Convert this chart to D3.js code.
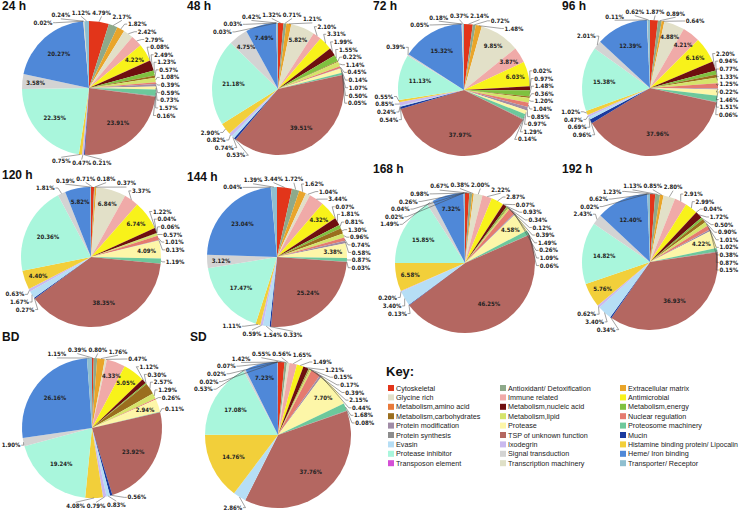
<!DOCTYPE html>
<html><head><meta charset="utf-8">
<script src="https://cdn.jsdelivr.net/npm/d3@7"></script>
<style>body{margin:0;background:#fff}svg{display:block}</style>
</head><body><svg id="c" width="740" height="512"></svg>
<script>
const categories = ["Cytoskeletal","Antioxidant/ Detoxification","Extracellular matrix","Glycine rich","Immune related","Antimicrobial","Metabolism,amino acid","Metabolism,nucleic acid","Metabolism,energy","Metabolism,carbohydrates","Metabolism,lipid","Nuclear regulation","Protein modification","Protease","Proteosome machinery","Protein synthesis","TSP of unknown function","Mucin","Evasin","Ixodegrin","Histamine binding protein/ Lipocalin","Protease inhibitor","Signal transduction","Heme/ Iron binding","Transposon element","Transcription machinery","Transporter/ Receptor"];
const colors = ["#e2351a","#8ea98a","#e9a52a","#e2e0c8","#f0aaa8","#f8f21a","#e8793a","#6e0f0f","#7fc13f","#9a6e1e","#d5e46a","#e57b6f","#a08ca6","#fdf6a8","#6dc89b","#8d8d8d","#b46761","#1b3a9e","#b6def5","#c9b9ef","#f2cf3a","#a9f6dc","#d3d3d3","#4f88d8","#d44fd6","#dfe0c7","#8fbfd0"];
const pieTitles = ["24 h","48 h","72 h","96 h","120 h","144 h","168 h","192 h","BD","SD"];
const v24h = [4.79,2.17,1.82,2.42,2.79,4.22,0.08,2.49,1.23,0.57,1.08,0.39,0.59,0.73,1.57,0.16,23.91,0.21,0,0.47,0.75,22.35,3.58,20.27,0.02,0.24,1.12];
const v48h = [1.32,0.71,1.21,5.82,2.10,3.31,0,1.99,1.55,0.22,1.14,0.45,0.14,1.07,0.50,0.05,39.51,0.53,0.74,0.82,2.90,21.18,4.75,7.49,0.03,0.03,0.42];
const v72h = [2.14,0.72,1.48,9.85,3.87,6.03,0.02,0.97,1.48,0.36,1.20,1.04,0.85,0.97,1.29,0.14,37.97,0.54,0.24,0.85,0.55,11.13,0.39,15.32,0.05,0.18,0.37];
const v96h = [1.87,0.89,0.64,4.88,4.21,6.16,0,2.20,0.94,0.77,1.33,1.25,0.22,1.46,1.51,0.06,37.96,0.96,0.69,0.47,1.02,15.38,2.01,12.39,0,0.11,0.62];
const v120h = [0.71,0.18,0.37,6.84,3.37,6.74,0,1.22,0.04,0.06,0.57,1.01,0.13,4.09,1.19,0,38.35,0.27,1.67,0.63,4.40,20.36,1.81,5.82,0,0,0.19];
const v144h = [3.44,1.72,1.62,1.04,3.44,4.32,0.07,1.81,0.81,1.30,0.96,0.74,0.58,3.38,0.87,0.03,25.24,0.33,1.54,0.59,1.11,17.47,3.12,23.04,0,0.04,1.39];
const v168h = [0.98,0.67,0.38,2.00,2.22,2.87,0.07,0.93,0.34,0.12,0.39,1.49,0.26,4.58,1.09,0.06,46.25,0.13,3.40,0.20,6.58,15.85,1.49,7.32,0.02,0.04,0.26];
const v192h = [1.23,1.13,0.85,2.80,2.91,2.99,0.04,1.72,0.50,0.90,1.01,1.02,0.38,4.22,0.87,0.15,36.93,0.34,3.40,0.62,5.76,14.82,2.43,12.40,0,0.02,0.62];
const vBD = [0.39,0.80,1.76,0.47,4.33,5.05,0,1.12,0.30,2.57,1.29,0.26,0,2.94,0.11,0,23.92,0.56,0.83,0.79,4.08,19.24,1.90,26.16,0,0,1.15];
const vSD = [1.42,0.55,0,0.56,1.65,1.49,0,1.21,0.15,0.17,0.39,2.15,0.44,7.70,1.68,0.08,37.76,0,2.86,0,14.76,17.08,0.53,7.23,0.02,0.02,0.07];
const pieValues = [v24h,v48h,v72h,v96h,v120h,v144h,v168h,v192h,vBD,vSD];
// label placement exceptions (category indexes)
const labelInside = {"24 h":[22],"72 h":[4],"144 h":[13,22],"BD":[13]};
const labelOutside = {"24 h":[0],"BD":[20]};

const layout = [
  {cx:89,cy:88,r:67,tx:2,ty:10},{cx:278,cy:89,r:66,tx:187,ty:10},{cx:464,cy:90,r:66,tx:373,ty:10},{cx:650,cy:88,r:68,tx:562,ty:10},
  {cx:91,cy:257,r:70,tx:2,ty:179},{cx:277,cy:257,r:70,tx:187,ty:181},{cx:465,cy:263,r:70,tx:373,ty:173},{cx:650,cy:262,r:68,tx:562,ty:173},
  {cx:92,cy:428,r:70,tx:2,ty:341},{cx:278,cy:435,r:73,tx:190,ty:341}
];

const svg = d3.select("#c");
const W = 740;
const LFONT = "'Liberation Sans Narrow','Arial Narrow','DejaVu Sans Condensed',sans-serif";
const pie = d3.pie().sort(null).value(d=>d.v).startAngle(0).endAngle(2*Math.PI);
const color = d3.scaleOrdinal().domain(categories).range(colors);

pieTitles.forEach((title,pi)=>{
  const L = layout[pi];
  const data = pieValues[pi].map((v,i)=>({v, i, c:categories[i]}));
  const arcs = pie(data);
  const g = svg.append("g");
  const arc = d3.arc().innerRadius(0).outerRadius(L.r);
  g.selectAll("path.s").data(arcs.filter(d=>d.data.v>0)).join("path")
    .attr("class","s").attr("transform",`translate(${L.cx},${L.cy})`)
    .attr("d",arc).attr("fill",d=>color(d.data.c));
  svg.append("text").attr("x",L.tx).attr("y",L.ty).text(title)
    .attr("font-family","'Liberation Sans',Arial,sans-serif").attr("font-weight","bold").attr("font-size",12).attr("fill","#111");

  const fs = 6;
  const items = [];
  arcs.forEach(d=>{
    if (d.data.v<=0) return;
    const idx = d.data.i;
    let inside = d.data.v >= 4;
    if ((labelInside[title]||[]).includes(idx)) inside = true;
    if ((labelOutside[title]||[]).includes(idx)) inside = false;
    const mid = (d.startAngle+d.endAngle)/2;
    const txt = d.data.v.toFixed(2)+"%";
    if (inside) {
      const rr = L.r*(d.data.v>10?0.68:0.8);
      g.append("text").attr("x",L.cx+rr*Math.sin(mid)).attr("y",L.cy-rr*Math.cos(mid))
        .attr("dy","0.35em").attr("text-anchor","middle").text(txt)
        .attr("font-family",LFONT).attr("font-weight","bold").attr("font-size",fs).attr("fill","#222");
    } else items.push({mid,txt});
  });
  items.forEach(it=>{
    it.node = g.append("text").text(it.txt).attr("font-family",LFONT).attr("font-weight","bold")
      .attr("font-size",fs).attr("fill","#222").attr("text-anchor","middle").attr("dy","0.35em");
    it.w = it.node.node().getComputedTextLength()+1.5;
    it.h = fs+1.5;
  });
  const n = items.length;
  if (!n) return;
  items.sort((a,b)=>a.mid-b.mid);
  let maxGap=-1, cut=0;
  for (let i=0;i<n;i++){
    const a=items[i].mid, b=(i+1<n)?items[i+1].mid:items[0].mid+2*Math.PI;
    if (b-a>maxGap){maxGap=b-a;cut=(i+1)%n;}
  }
  const ord = items.slice(cut).concat(items.slice(0,cut));
  let prev=-Infinity;
  ord.forEach(it=>{let t=it.mid; while(t<prev) t+=2*Math.PI; it.t=t; prev=t;});
  const R = L.r+4;
  const pos = it=>{
    const s=Math.sin(it.t),c=Math.cos(it.t);
    const ext=it.w/2*Math.abs(s)+it.h/2*Math.abs(c);
    let x=L.cx+(R+ext)*s, y=L.cy-(R+ext)*c;
    x=Math.max(it.w/2+1,Math.min(W-1-it.w/2,x));
    y=Math.max(it.h/2+0.5,y);
    return {x,y};
  };
  for (let iter=0; iter<5000; iter++){
    let moved=false;
    for (let i=0;i<ord.length;i++) for (let j=i+1;j<ord.length;j++){
      const A=pos(ord[i]),B=pos(ord[j]);
      if (Math.abs(A.x-B.x)<(ord[i].w+ord[j].w)/2 && Math.abs(A.y-B.y)<(ord[i].h+ord[j].h)/2){
        ord[i].t-=0.003; ord[j].t+=0.003; moved=true;
      }
    }
    if(!moved) break;
  }
  ord.forEach(it=>{
    const p=pos(it);
    it.node.attr("x",p.x).attr("y",p.y);
    const x0=L.cx+L.r*Math.sin(it.mid), y0=L.cy-L.r*Math.cos(it.mid);
    const s=Math.sin(it.t), c=Math.cos(it.t);
    let pts;
    if (Math.abs(s)>0.45){
      const sg = s>0?1:-1;
      const ex=p.x-sg*it.w/2, ey=p.y;
      pts=[[x0,y0],[ex-sg*2.5,ey],[ex,ey]];
    } else {
      const ey = p.y + (c>0?it.h/2:-it.h/2);
      pts=[[x0,y0],[p.x,ey]];
    }
    g.insert("path","text").attr("d",d3.line()(pts)).attr("fill","none").attr("stroke","#444").attr("stroke-width",0.5);
  });
});

// Key
const key = svg.append("g");
key.append("text").attr("x",386).attr("y",376).text("Key:")
  .attr("font-family","'Liberation Sans',Arial,sans-serif").attr("font-weight","bold").attr("font-size",13).attr("fill","#111");
const colX = [388,500,620];
categories.forEach((c,i)=>{
  const col=i%3,row=Math.floor(i/3);
  const y = 388+row*9.4;
  key.append("rect").attr("x",colX[col]).attr("y",y-3).attr("width",6).attr("height",6).attr("fill",color(c));
  const t = key.append("text").attr("x",colX[col]+8).attr("y",y+2.5).text(c)
    .attr("font-family","'Liberation Sans',Arial,sans-serif").attr("font-size",7.2).attr("fill","#222");
  const avail = (col<2 ? colX[col+1]-4 : W-2) - (colX[col]+8);
  const len = t.node().getComputedTextLength();
  if (len>avail) t.attr("textLength",avail).attr("lengthAdjust","spacingAndGlyphs");
});
</script></body></html>
